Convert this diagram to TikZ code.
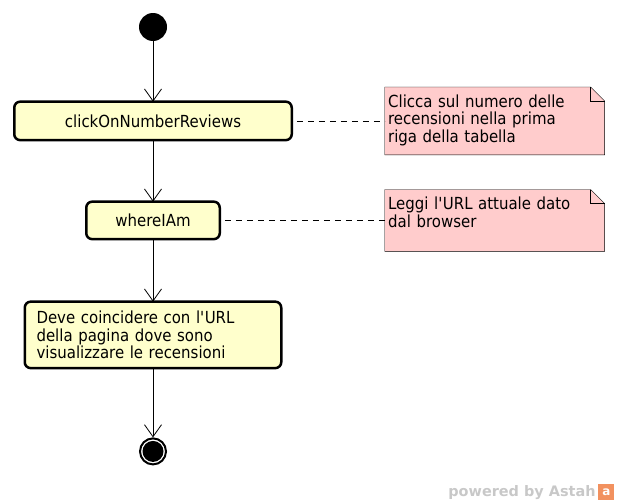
\documentclass[tikz,border=0pt]{standalone}
\usepackage{fontspec}
\setmainfont{DejaVu Sans}[FakeStretch=0.9]
\newfontfamily\wmfont{DejaVu Sans}
\usetikzlibrary{arrows.meta,positioning,backgrounds}

\definecolor{actfill}{RGB}{255,255,204}
\definecolor{notefill}{RGB}{255,204,204}
\definecolor{wmgray}{RGB}{200,200,200}
\definecolor{astahorange}{RGB}{242,145,95}

\tikzset{
  activity/.style={draw, line width=2.5bp, rounded corners=6bp, fill=actfill, outer sep=0pt,
    minimum height=38.5bp},
  comment/.style={text width=213bp, align=left, inner xsep=3bp, inner ysep=7bp, text height=13bp},
  startnode/.style={circle, fill=black, minimum size=28bp, inner sep=0pt},
  endnode/.style={circle, draw, line width=2bp, fill=white, minimum size=26bp, inner sep=0pt,
    path picture={\fill[black] (path picture bounding box.center) circle (10.5bp);}}
}

\begin{document}
\begin{tikzpicture}[->,>={Straight Barb[length=12bp,width=17bp]},line width=0.8bp,
        node distance=61.5bp,font=\fontsize{16.7}{17.5}\selectfont]

  \useasboundingbox (0,0) rectangle (617bp,-504bp);

  \node[startnode] (s) at (153bp,-27bp) {};
  \node[activity,minimum width=277.5bp] (a1) [below=60.25bp of s] {clickOnNumberReviews};
  \node[activity,minimum width=133.5bp,minimum height=37.5bp] (a2) [below=of a1] {whereIAm};
  \node[activity,minimum width=256.5bp,minimum height=66.5bp,text width=233bp,align=left] (a3) [below=62.5bp of a2]
    {Deve coincidere con l\textquotesingle URL\\della pagina dove sono\\visualizzare le recensioni};
  \node[endnode] (e) [below=69.25bp of a3] {};

  \node[comment,text depth=40bp] (n1) [right=93bp of a1]
    {Clicca sul numero delle\\recensioni nella prima\\riga della tabella};
  \node[comment,text depth=34bp] (n2) [right=165bp of a2]
    {Leggi l\textquotesingle URL attuale dato\\dal browser};

  \begin{scope}[on background layer]
    \foreach \n in {n1,n2}
      \filldraw[-,fill=notefill] (\n.north west) -- ([xshift=-14bp]\n.north east)
        -- ([yshift=-14bp]\n.north east) -- (\n.south east) -- (\n.south west) -- cycle;
  \end{scope}
  \foreach \n in {n1,n2}
    \draw[-] ([xshift=-14bp]\n.north east) |- ([yshift=-14bp]\n.north east);

  \path (s) edge (a1)
        (a1) edge (a2)
        (a2) edge (a3)
        (a3) edge (e);
  \path[-,dash pattern=on 6bp off 5bp,dash phase=6bp]
        (a1) edge (n1)
        (a2) edge (n2);

  % watermark
  \node[anchor=base east,inner sep=0pt,text=wmgray,font=\wmfont\bfseries\fontsize{14.5}{16}\selectfont]
    (wm) at (596bp,-496bp) {powered by Astah};
  \node[fill=astahorange,minimum size=16bp,inner sep=0pt,right=2bp of wm,
    font=\wmfont\bfseries\fontsize{12}{12}\selectfont,text=white] (logo) {a};

\end{tikzpicture}
\end{document}
